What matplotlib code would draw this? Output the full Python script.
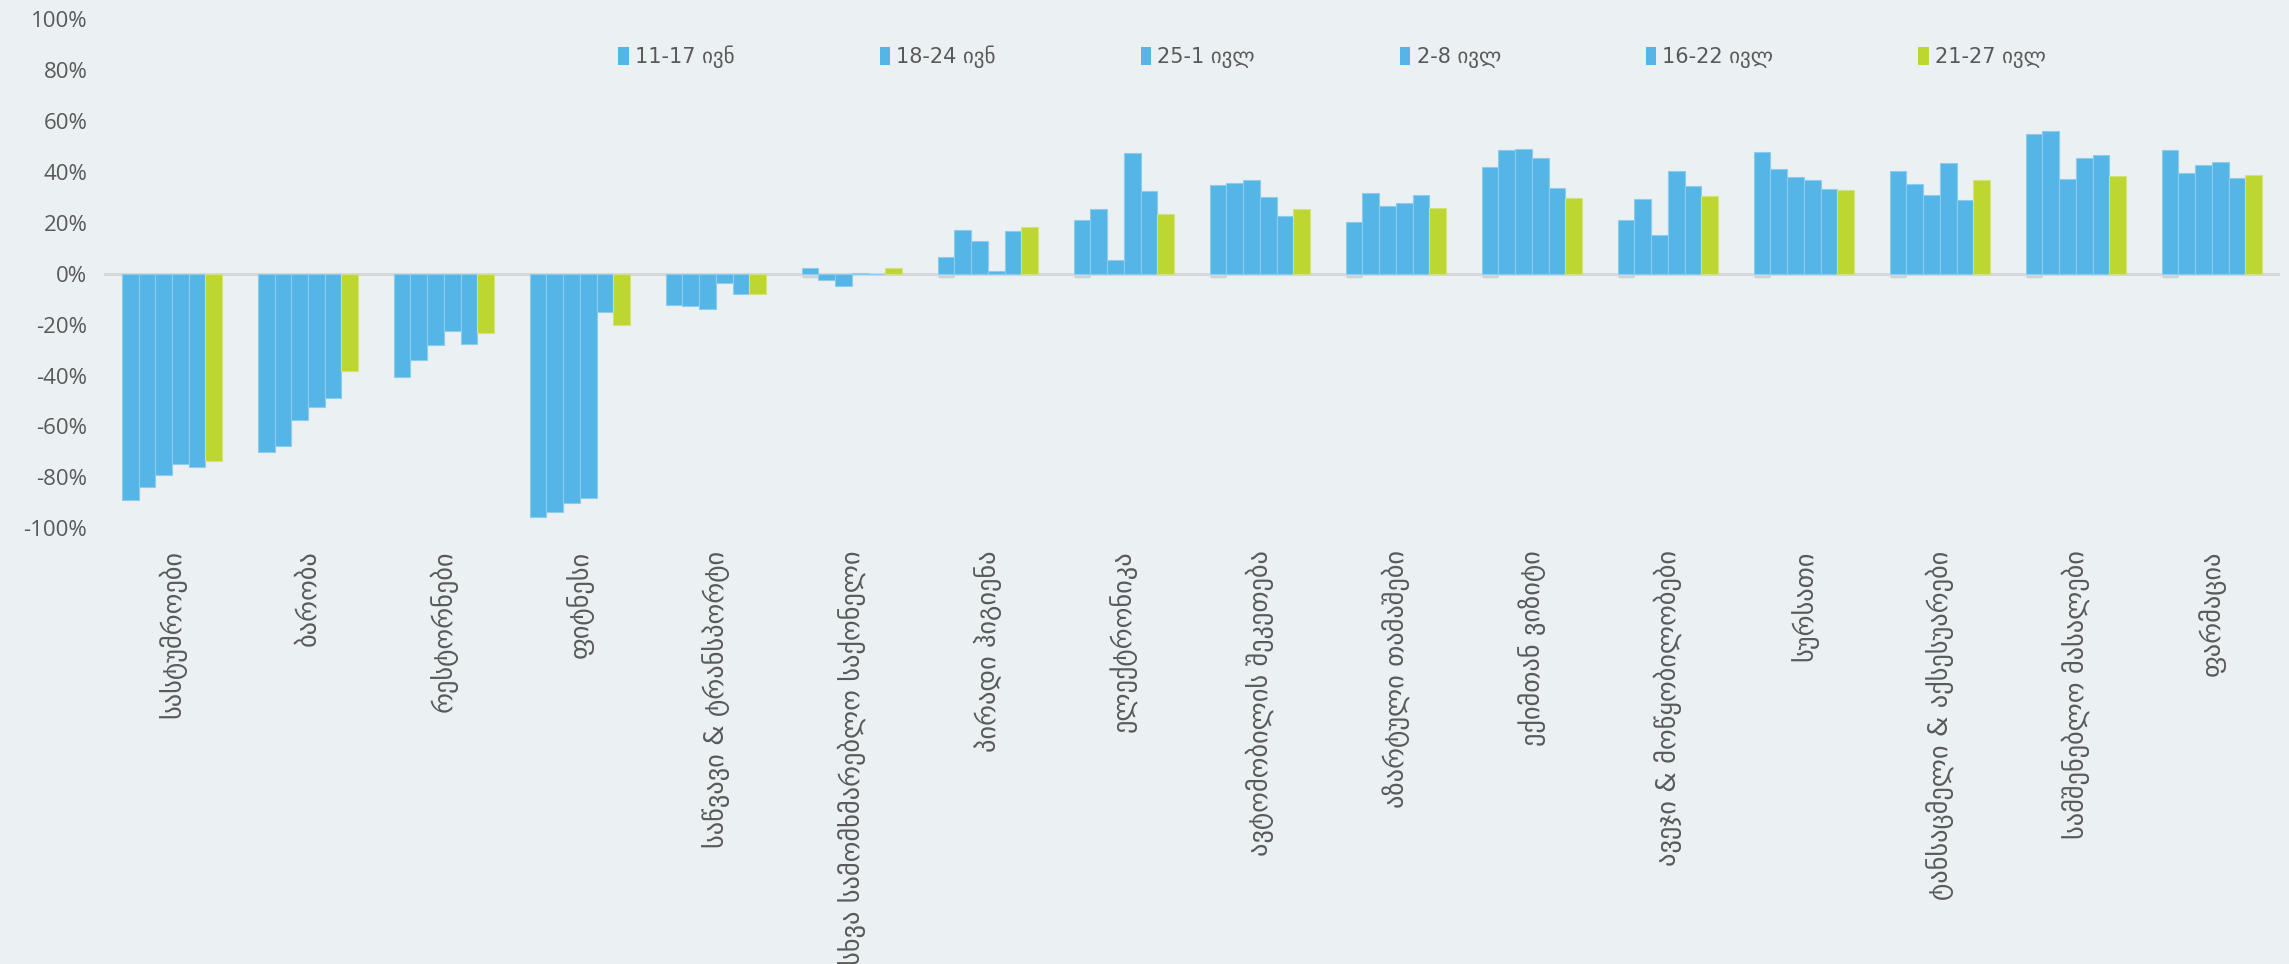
import matplotlib
matplotlib.use('Agg')
import matplotlib.pyplot as plt
from matplotlib.patches import Patch
from matplotlib.ticker import FuncFormatter
import numpy as np

# categories (Georgian spending categories)
categories = [
    'სასტუმროები', 'ბარობა', 'რესტორნები', 'ფიტნესი',
    'საწვავი & ტრანსპორტი', 'სხვა სამომხმარებლო საქონელი', 'პირადი ჰიგიენა',
    'ელექტრონიკა', 'ავტომობილის შეკეთება', 'აზარტული თამაშები',
    'ექიმთან ვიზიტი', 'ავეჯი & მოწყობილობები', 'სურსათი',
    'ტანსაცმელი & აქსესუარები', 'სამშენებლო მასალები', 'ფარმაცია',
]

series_names = ['11-17 ივნ', '18-24 ივნ', '25-1 ივლ', '2-8 ივლ', '16-22 ივლ', '21-27 ივლ']

s_11_17_jun = [-88.7, -70.0, -40.7, -95.7, -12.1, 2.1, 6.5, 21.1, 34.8, 20.4, 41.9, 21.1, 47.9, 40.3, 54.9, 48.6]
s_18_24_jun = [-83.8, -67.5, -34.0, -93.8, -12.6, -2.6, 17.2, 25.3, 35.8, 31.6, 48.6, 29.5, 41.0, 35.2, 56.1, 39.6]
s_25_1_jul = [-79.2, -57.5, -27.9, -90.2, -14.0, -4.7, 13.0, 5.4, 36.9, 26.7, 48.9, 15.1, 38.0, 31.0, 37.2, 42.6]
s_2_8_jul = [-74.7, -52.3, -22.5, -88.3, -3.8, 0.5, 0.9, 47.6, 30.0, 27.8, 45.6, 40.3, 36.8, 43.4, 45.3, 44.1]
s_16_22_jul = [-75.9, -49.0, -27.4, -14.9, -7.9, 0.0, 16.8, 32.4, 22.7, 31.0, 33.9, 34.5, 33.5, 29.0, 46.6, 37.6]
s_21_27_jul = [-73.4, -38.2, -23.2, -20.1, -7.8, 2.1, 18.5, 23.4, 25.3, 25.9, 29.9, 30.4, 33.0, 36.7, 38.4, 38.9]

all_series = [s_11_17_jun, s_18_24_jun, s_25_1_jul, s_2_8_jul, s_16_22_jul, s_21_27_jul]

BLUE = '#55b5e6'
GREEN = '#bed630'
colors = [BLUE] * 5 + [GREEN]
edge_colors = ['#8ccdee'] * 5 + ['#d3e37a']
BG = '#ebf0f3'
TXT = '#595959'

fig = plt.figure(figsize=(22.89, 9.64), dpi=100, facecolor=BG)
ax = fig.add_axes([0.0454, 0.452, 0.9506, 0.528])
ax.set_facecolor(BG)

x = np.arange(len(categories))
group_w = 0.737
w = group_w / len(all_series)

for j, vals in enumerate(all_series):
    offs = (j - (len(all_series) - 1) / 2) * w
    ax.bar(x + offs, vals, width=w, color=colors[j], edgecolor=edge_colors[j],
           linewidth=0.8, zorder=3)

# small grey mark under the first bar of each group
first_off = -(len(all_series) - 1) / 2 * w
ax.hlines(np.full(len(x), -0.9), x + first_off - w / 2, x + first_off + w / 2,
          color='#c8d4da', linewidth=2.5, zorder=2)

# zero line
ax.axhline(0, color='#d6d9db', linewidth=2.2, zorder=2)

ax.set_xlim(-0.5, len(categories) - 0.5)
ax.set_ylim(-100, 100)
ax.set_yticks(np.arange(-100, 101, 20))
ax.yaxis.set_major_formatter(FuncFormatter(lambda v, p: f'{int(v)}%'))
for lab in ax.get_yticklabels():
    lab.set_fontfamily(['Open Sans', 'DejaVu Sans'])
ax.tick_params(axis='y', length=0, labelsize=16, labelcolor=TXT, pad=12)

ax.set_xticks(x)
ax.set_xticklabels(categories, rotation=90, fontsize=19, color=TXT,
                   family=['DejaVu Sans'], va='top', ha='center')
ax.tick_params(axis='x', length=0, pad=16)

for sp in ax.spines.values():
    sp.set_visible(False)

# legend
handles = [Patch(facecolor=colors[j], edgecolor='none', label=series_names[j])
           for j in range(len(series_names))]
leg = fig.legend(handles=handles, loc='center left', ncol=6, frameon=False,
                 bbox_to_anchor=(0.262, 0.941, 0.64, 0.0), mode='expand',
                 bbox_transform=fig.transFigure,
                 handlelength=0.5, handleheight=0.9, handletextpad=0.3,
                 prop={'family': ['DejaVu Sans Condensed', 'DejaVu Sans'], 'size': 15})
for t in leg.get_texts():
    t.set_color(TXT)

plt.savefig('out.png', dpi=100, facecolor=BG)
plt.close()
